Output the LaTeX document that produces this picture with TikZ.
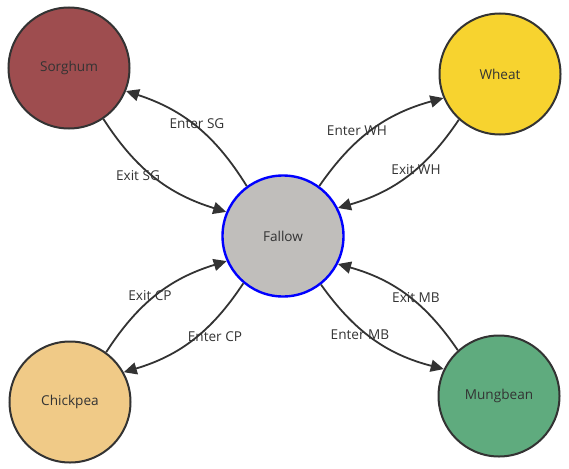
\documentclass[tikz,border=0pt]{standalone}
\usepackage{fontspec}
\setmainfont{Open Sans}
\usetikzlibrary{arrows.meta}
\definecolor{ink}{HTML}{333333}
\definecolor{sorgc}{HTML}{9E4D4F}
\definecolor{wheatc}{HTML}{F7D32F}
\definecolor{fallowc}{HTML}{C0BEBB}
\definecolor{chickc}{HTML}{F0CA87}
\definecolor{mungc}{HTML}{5FAB7E}
\begin{document}
\begin{tikzpicture}[x=1pt,y=-1pt,
  crop/.style={circle,draw=ink,line width=2pt,minimum size=121pt,inner sep=0pt,
    text=ink,font=\fontsize{13.6}{15}\selectfont},
  edge/.style={draw=ink,line width=1.8pt,-{Triangle[length=13pt,width=12pt]}},
  lbl/.style={text=ink,font=\fontsize{13.6}{15}\selectfont,inner sep=0pt}]
\useasboundingbox (0,0) rectangle (569,468);
\node[crop,fill=sorgc] (sorghum) at (69,68) {Sorghum};
\node[crop,fill=wheatc] (wheat) at (500,74) {Wheat};
\node[crop,fill=fallowc,draw=blue,line width=2.4pt] (fallow) at (283,236) {Fallow};
\node[crop,fill=chickc] (chickpea) at (70,402) {Chickpea};
\node[crop,fill=mungc] (mungbean) at (499,396) {Mungbean};

\draw[edge] (fallow.126.7) to[bend right=20] (sorghum.-22);
\draw[edge] (sorghum.-56) to[bend right=20] (fallow.157);
\draw[edge] (fallow.54.5) to[bend left=20] (wheat.203);
\draw[edge] (wheat.228) to[bend left=20] (fallow.27);
\draw[edge] (chickpea.54) to[bend left=20] (fallow.204);
\draw[edge] (fallow.230) to[bend left=20] (chickpea.29);
\draw[edge] (fallow.-52.6) to[bend right=20] (mungbean.154.6);
\draw[edge] (mungbean.132.4) to[bend right=20] (fallow.-27);

\node[lbl] (lesg) at (197,124) {Enter SG};
\node[lbl] (lxsg) at (138,176) {Exit SG};
\node[lbl] (lewh) at (357,131) {Enter WH};
\node[lbl] (lxwh) at (416,170) {Exit WH};
\node[lbl] (lxcp) at (150,296) {Exit CP};
\node[lbl] (lecp) at (215,337) {Enter CP};
\node[lbl] (lemb) at (360,335) {Enter MB};
\node[lbl] (lxmb) at (416,298) {Exit MB};
\end{tikzpicture}
\end{document}
